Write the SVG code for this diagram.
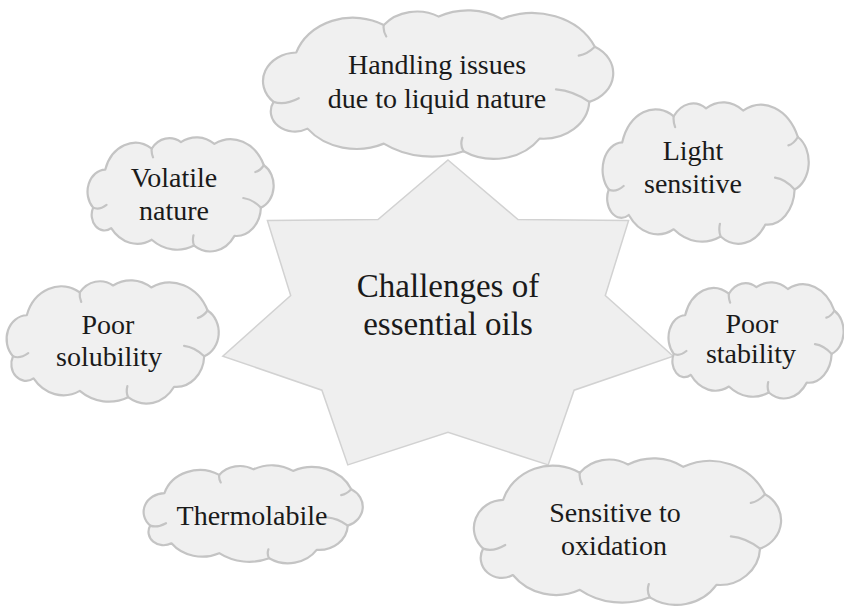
<svg xmlns="http://www.w3.org/2000/svg" width="844" height="606" viewBox="0 0 844 606" font-family="'Liberation Serif', 'Times New Roman', serif">
  <style>
    .bg { fill: #ffffff; }
    .star { fill: #efefef; stroke: #d2d2d2; stroke-width: 1.5; stroke-linejoin: miter; }
    .cloud { fill: #f0f0f0; stroke: #c4c4c4; stroke-width: 2.2; vector-effect: non-scaling-stroke; stroke-linejoin: round; }
    .hook { fill: none; stroke: #c4c4c4; stroke-width: 2.2; vector-effect: non-scaling-stroke; stroke-linecap: round; }
    .t { font-size: 28px; fill: #1a1a1a; text-anchor: middle; }
    .tc { font-size: 33px; fill: #1a1a1a; text-anchor: middle; }
  </style>
  <defs>
    <g id="cloudShape">
      <path class="cloud" d="M 19.6 28.9 A 33.9 33.9 0 0 1 69.6 10.2 A 24.2 24.2 0 0 1 101 4.5 A 34.9 34.9 0 0 1 137 6.1 A 39.3 39.3 0 0 1 190.2 25 A 20.7 20.7 0 0 1 187 62.5 A 26.3 26.3 0 0 1 158.6 87.5 A 31.6 31.6 0 0 1 115.2 96.1 A 46.9 46.9 0 0 1 69.6 90.9 A 35.4 35.4 0 0 1 26 80.7 A 13.8 13.8 0 0 1 6.6 62.5 A 19.5 19.5 0 0 1 19.6 28.9 Z"/>
      <path class="hook" d="M 6.6 62.5 Q 13 65 21 60 M 187 62.5 Q 178 55 168 54 M 115.2 96.1 Q 113 92 114.5 87 M 69.6 10.2 Q 69 14 71 18 M 190.2 25 Q 186 30 181 31"/>
    </g>
  </defs>
  <rect class="bg" x="0" y="0" width="844" height="606"/>

  <g id="center">
    <polygon class="star" points="448,160 518,219.5 628.6,220.4 605.3,295.5 673.2,356.1 574.1,390.2 548.2,464.9 448,432.4 347.8,464.9 321.9,390.2 222.8,356.1 290.7,295.5 267.4,220.4 378,219.5"/>
    <text class="tc" x="448" y="297">Challenges of</text>
    <text class="tc" x="448" y="335">essential oils</text>
  </g>

  <g id="connectors"></g>

  <g id="handling">
    <use href="#cloudShape" transform="translate(262,10) scale(1.75,1.47)"/>
    <text class="t" x="437" y="74">Handling issues</text>
    <text class="t" x="437" y="108">due to liquid nature</text>
  </g>

  <g id="light">
    <use href="#cloudShape" transform="translate(602,102) scale(1.03,1.40)"/>
    <text class="t" x="693" y="160">Light</text>
    <text class="t" x="693" y="193">sensitive</text>
  </g>

  <g id="volatile">
    <use href="#cloudShape" transform="translate(87,137) scale(0.93,1.13)"/>
    <text class="t" x="174" y="187">Volatile</text>
    <text class="t" x="174" y="220">nature</text>
  </g>

  <g id="solubility">
    <use href="#cloudShape" transform="translate(6,280) scale(1.06,1.22)"/>
    <text class="t" x="108" y="334">Poor</text>
    <text class="t" x="109" y="366">solubility</text>
  </g>

  <g id="stability">
    <use href="#cloudShape" transform="translate(668,282) scale(0.875,1.15)"/>
    <text class="t" x="752" y="333">Poor</text>
    <text class="t" x="751" y="363">stability</text>
  </g>

  <g id="thermolabile">
    <use href="#cloudShape" transform="translate(143,465) scale(1.095,0.97)"/>
    <text class="t" x="252" y="525">Thermolabile</text>
  </g>

  <g id="oxidation">
    <use href="#cloudShape" transform="translate(473,458) scale(1.535,1.45)"/>
    <text class="t" x="615" y="522">Sensitive to</text>
    <text class="t" x="614" y="555">oxidation</text>
  </g>
</svg>
